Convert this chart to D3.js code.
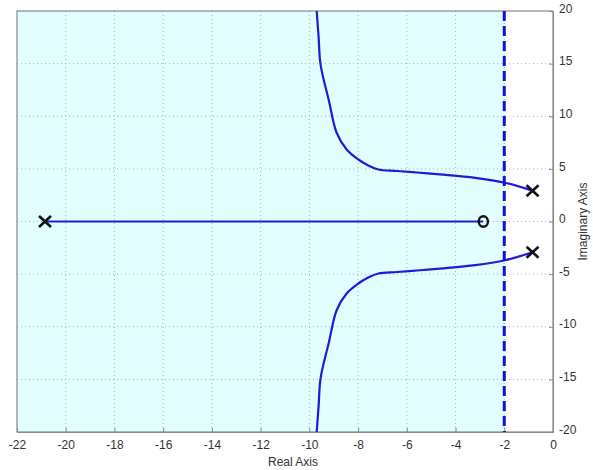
<!DOCTYPE html>
<html><head><meta charset="utf-8">
<script src="https://cdn.jsdelivr.net/npm/d3@7"></script>
<style>body{margin:0;background:#fff}svg{display:block;font-family:"Liberation Sans",Arial,sans-serif}</style>
</head><body><svg id="c" width="593" height="470"></svg>
<script>
const xTicks = [-22,-20,-18,-16,-14,-12,-10,-8,-6,-4,-2,0];
const yTicks = [-20,-15,-10,-5,0,5,10,15,20];
const poles = [[-20.85,0],[-0.84,2.92],[-0.84,-2.92]];
const zeros = [[-2.86,0]];
const realBranch = [[-20.85,0],[-2.86,0]];
const upperBranch = [[-0.84,2.92],[-1.97,3.68],[-3.2,4.15],[-4.64,4.47],[-5.46,4.63],[-6.4,4.8],[-7.17,4.94],[-7.6,5.35],[-7.99,5.89],[-8.47,6.84],[-8.88,8.43],[-9.2,11.5],[-9.54,14.9],[-9.62,17.5],[-9.70,20]];
const lowerBranch = upperBranch.map(d=>[d[0],-d[1]]);
const stabilityLimit = -2;

const svg = d3.select("#c");
const L=17,R=553,T=11,B=432;
const x = d3.scaleLinear().domain([-22,0]).range([L,R]);
const y = d3.scaleLinear().domain([-20,20]).range([B,T]);

svg.append("rect").attr("x",x(-22)).attr("y",T).attr("width",x(stabilityLimit)-x(-22)).attr("height",B-T).attr("fill","#e2fefe");

const grid = svg.append("g").attr("stroke","#b0b0b0").attr("stroke-dasharray","1,3").attr("stroke-width",1);
xTicks.filter(v=>v>-22&&v<0).forEach(v=>grid.append("line").attr("x1",x(v)).attr("x2",x(v)).attr("y1",T).attr("y2",B));
yTicks.filter(v=>v>-20&&v<20).forEach(v=>grid.append("line").attr("x1",L).attr("x2",R).attr("y1",y(v)).attr("y2",y(v)));

svg.append("rect").attr("x",L).attr("y",T).attr("width",R-L).attr("height",B-T).attr("fill","none").attr("stroke","#888").attr("stroke-width",1.2);

const fmt = d => String(d);
const xa = svg.append("g").attr("transform",`translate(0,${B})`).call(d3.axisBottom(x).tickValues(xTicks).tickSizeInner(-4).tickSizeOuter(0).tickPadding(8).tickFormat(fmt));
const ya = svg.append("g").attr("transform",`translate(${R},0)`).call(d3.axisRight(y).tickValues(yTicks).tickSizeInner(-4).tickSizeOuter(0).tickPadding(6).tickFormat(fmt));
[xa,ya].forEach(a=>{a.select(".domain").attr("stroke","#888");a.selectAll(".tick line").attr("stroke","#888");a.selectAll("text").attr("font-size",12).attr("fill","#333").attr("font-family","Liberation Sans, Arial, sans-serif");});
ya.selectAll("text").attr("dy","0.1em");

svg.append("text").attr("x",(L+R)/2+8).attr("y",466).attr("text-anchor","middle").attr("font-size",12).attr("fill","#333").text("Real Axis");
svg.append("text").attr("transform",`translate(587,${(T+B)/2}) rotate(-90)`).attr("text-anchor","middle").attr("font-size",12).attr("fill","#333").text("Imaginary Axis");

const lineLin = d3.line().x(d=>x(d[0])).y(d=>y(d[1]));
svg.append("path").attr("d",lineLin(realBranch)).attr("fill","none").attr("stroke","#1c1cd8").attr("stroke-width",2.2);
[upperBranch,lowerBranch].forEach(b=>svg.append("path").attr("d",d3.line().x(d=>x(d[0])).y(d=>y(d[1])).curve(d3.curveCatmullRom)(b)).attr("fill","none").attr("stroke","#1c1cd8").attr("stroke-width",2.2));

svg.append("line").attr("x1",x(stabilityLimit)).attr("x2",x(stabilityLimit)).attr("y1",T).attr("y2",B).attr("stroke","#1010e0").attr("stroke-width",3).attr("stroke-dasharray","10,5");

const pm = svg.append("g").attr("stroke","#111").attr("stroke-width",2.6);
poles.forEach(p=>{const cx=x(p[0]),cy=y(p[1]),sx=6,sy=5.5;pm.append("line").attr("x1",cx-sx).attr("y1",cy-sy).attr("x2",cx+sx).attr("y2",cy+sy);pm.append("line").attr("x1",cx-sx).attr("y1",cy+sy).attr("x2",cx+sx).attr("y2",cy-sy);});
zeros.forEach(z=>svg.append("ellipse").attr("cx",x(z[0])).attr("cy",y(z[1])).attr("rx",4.6).attr("ry",5.3).attr("fill","none").attr("stroke","#111").attr("stroke-width",2.4));
</script></body></html>
